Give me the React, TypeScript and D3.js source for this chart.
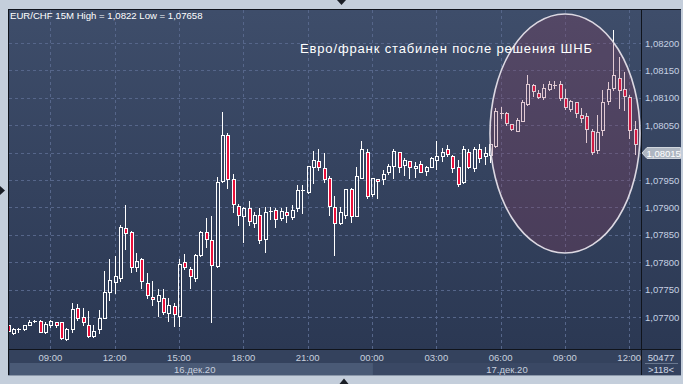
import React from "react";
import * as d3 from "d3";

const opens = [1.07685,1.07671,1.07677,1.07678,1.07686,1.07692,1.07693,1.07672,1.07685,1.07690,1.07690,1.07659,1.07678,1.07716,1.07700,1.07685,1.07665,1.07678,1.07699,1.07746,1.07764,1.07771,1.07862,1.07855,1.07791,1.07806,1.07762,1.07736,1.07730,1.07734,1.07707,1.07720,1.07701,1.07800,1.07788,1.07772,1.07813,1.07855,1.07840,1.07793,1.07948,1.08032,1.07952,1.07903,1.07884,1.07899,1.07872,1.07887,1.07842,1.07893,1.07895,1.07880,1.07892,1.07883,1.07898,1.07931,1.07928,1.07973,1.07985,1.07971,1.07953,1.07900,1.07871,1.07887,1.07934,1.07885,1.07954,1.08002,1.07924,1.07951,1.07951,1.07964,1.07976,1.08001,1.07978,1.07984,1.07971,1.07980,1.07967,1.07974,1.07987,1.07994,1.08006,1.07994,1.07973,1.07946,1.08002,1.07972,1.08007,1.07993,1.07996,1.08012,1.08072,1.08072,1.08052,1.08040,1.08058,1.08088,1.08123,1.08109,1.08102,1.08116,1.08123,1.08126,1.08100,1.08080,1.08092,1.08069,1.08066,1.08040,1.08005,1.08041,1.08095,1.08117,1.08137,1.08116,1.08102,1.08043];
const highs = [1.07687,1.07680,1.07680,1.07686,1.07695,1.07695,1.07695,1.07691,1.07695,1.07691,1.07691,1.07680,1.07726,1.07724,1.07716,1.07711,1.07686,1.07713,1.07784,1.07806,1.07812,1.07867,1.07904,1.07857,1.07817,1.07808,1.07780,1.07766,1.07751,1.07751,1.07734,1.07726,1.07805,1.07815,1.07792,1.07815,1.07857,1.07881,1.07884,1.07955,1.08074,1.08036,1.07961,1.07906,1.07900,1.07912,1.07891,1.07898,1.07900,1.07900,1.07899,1.07898,1.07900,1.07904,1.07941,1.07941,1.07976,1.08003,1.08007,1.07999,1.07957,1.07921,1.07900,1.07934,1.07935,1.07974,1.08021,1.08006,1.07954,1.07952,1.07968,1.07979,1.08007,1.08002,1.07991,1.07985,1.07982,1.07985,1.07976,1.07992,1.08022,1.08008,1.08014,1.07995,1.07987,1.08012,1.08006,1.08010,1.08016,1.08010,1.08016,1.08082,1.08083,1.08074,1.08052,1.08063,1.08096,1.08142,1.08126,1.08114,1.08125,1.08131,1.08131,1.08131,1.08116,1.08096,1.08093,1.08081,1.08072,1.08043,1.08068,1.08114,1.08129,1.08224,1.08175,1.08147,1.08106,1.08058];
const lows = [1.07672,1.07669,1.07672,1.07677,1.07685,1.07690,1.07672,1.07671,1.07682,1.07681,1.07660,1.07658,1.07673,1.07694,1.07685,1.07664,1.07664,1.07670,1.07698,1.07731,1.07743,1.07766,1.07825,1.07783,1.07784,1.07753,1.07734,1.07721,1.07701,1.07705,1.07693,1.07684,1.07684,1.07787,1.07753,1.07766,1.07811,1.07827,1.07691,1.07792,1.07947,1.07935,1.07892,1.07867,1.07836,1.07867,1.07865,1.07835,1.07819,1.07879,1.07865,1.07877,1.07874,1.07879,1.07893,1.07890,1.07927,1.07944,1.07968,1.07947,1.07886,1.07814,1.07870,1.07880,1.07874,1.07884,1.07953,1.07917,1.07920,1.07917,1.07943,1.07961,1.07954,1.07965,1.07959,1.07954,1.07956,1.07964,1.07959,1.07973,1.07970,1.07985,1.07994,1.07965,1.07939,1.07945,1.07972,1.07967,1.07983,1.07979,1.07983,1.08011,1.08064,1.08050,1.08041,1.08039,1.08057,1.08087,1.08103,1.08100,1.08098,1.08114,1.08118,1.08096,1.08080,1.08076,1.08065,1.08056,1.08019,1.07997,1.07999,1.08032,1.08089,1.08114,1.08081,1.08078,1.08027,1.07997];
const closes = [1.07674,1.07679,1.07679,1.07685,1.07690,1.07692,1.07673,1.07687,1.07692,1.07686,1.07661,1.07679,1.07714,1.07698,1.07690,1.07665,1.07674,1.07698,1.07745,1.07768,1.07775,1.07865,1.07853,1.07792,1.07802,1.07766,1.07740,1.07732,1.07740,1.07710,1.07722,1.07705,1.07797,1.07791,1.07774,1.07814,1.07856,1.07842,1.07794,1.07946,1.08033,1.07951,1.07906,1.07886,1.07898,1.07875,1.07886,1.07841,1.07891,1.07894,1.07879,1.07893,1.07886,1.07895,1.07932,1.07932,1.07975,1.07986,1.07973,1.07951,1.07903,1.07872,1.07891,1.07933,1.07884,1.07957,1.08006,1.07920,1.07953,1.07948,1.07961,1.07976,1.08003,1.07974,1.07987,1.07973,1.07975,1.07965,1.07973,1.07991,1.07993,1.08002,1.07998,1.07971,1.07943,1.08006,1.07974,1.08007,1.07991,1.07999,1.08015,1.08076,1.08073,1.08054,1.08043,1.08060,1.08093,1.08126,1.08112,1.08101,1.08117,1.08126,1.08124,1.08099,1.08083,1.08094,1.08072,1.08063,1.08043,1.08002,1.08038,1.08093,1.08116,1.08142,1.08114,1.08103,1.08041,1.08015];

const priceTicks = [1.077, 1.0775, 1.078, 1.0785, 1.079, 1.0795, 1.08, 1.0805, 1.081, 1.0815, 1.082];
const timeTickIdx = [8, 20, 32, 44, 56, 68, 80, 92, 104, 116];
const timeTickLabels = ["09:00", "12:00", "15:00", "18:00", "21:00", "00:00", "03:00", "06:00", "09:00", "12:00"];
const dayLabels = ["16.дек.20", "17.дек.20"];
const dayStartIdx = [0, 68];
const lastPrice = 1.08015;
const headerText = "EUR/CHF 15M High = 1,0822 Low = 1,07658";
const annotation = "Евро/франк стабилен после решения ШНБ";
const volumeText = "50477";
const countText = ">118<";

const W = 683, H = 384;
const PL = 9, PT = 10, PR = 641, PB = 349;
const FONT = "'Liberation Sans', Arial, sans-serif";

export default function App() {
  const n = opens.length;
  const x = d3.scaleLinear().domain([0, n - 1]).range([8.5, 635.6]);
  const y = d3.scaleLinear().domain([1.077, 1.082]).range([317, 43]);
  const fmt = (v: number) => v.toFixed(5).replace(".", ",");
  const col = (i: number) => Math.floor(x(i) - 0.5);

  return (
    <div style={{ position: "absolute", left: 0, top: 0, width: W, height: H }}>
      <svg width={W} height={H} style={{ display: "block" }}>
        <defs>
          <linearGradient id="bg" x1="0" y1="0" x2="0" y2="1">
            <stop offset="0" stopColor="#3e4d6a" />
            <stop offset="1" stopColor="#2b3853" />
          </linearGradient>
          <clipPath id="plotClip">
            <rect x={PL} y={PT} width={PR - PL} height={PB - PT} />
          </clipPath>
          <clipPath id="axisClip">
            <rect x={PL} y={PB} width={PR - PL} height={30} />
          </clipPath>
          <clipPath id="hiddenLabel">
            <rect x={642} y={159} width={40} height={10} />
          </clipPath>
        </defs>
        <rect x={0} y={0} width={W} height={H} fill="#c4cedb" />
        {/* main frame */}
        <rect x={8} y={9} width={673} height={367} fill="#34425e" />
        <rect x={PL} y={PT} width={PR - PL} height={PB - PT} fill="url(#bg)" />
        <rect x={PR + 1} y={PT} width={681 - PR - 1} height={PB - PT} fill="url(#bg)" />
        {/* time axis band */}
        <rect x={PL} y={PB + 1} width={PR - PL} height={14} fill="#34425d" />
        <rect x={PL + 1} y={363} width={x(dayStartIdx[1]) - PL - 1} height={12} fill="#4a5a76" />
        <rect x={x(dayStartIdx[1])} y={363} width={PR - x(dayStartIdx[1])} height={12} fill="#3a4864" />
        {/* frame lines */}
        <line x1={8.5} y1={9} x2={8.5} y2={376} stroke="#10141c" />
        <line x1={8} y1={9.5} x2={681} y2={9.5} stroke="#10141c" />
        <line x1={8} y1={PB + 0.5} x2={681} y2={PB + 0.5} stroke="#10141c" />
        <line x1={PR + 0.5} y1={9} x2={PR + 0.5} y2={376} stroke="#10141c" />
        <line x1={8} y1={375.5} x2={681} y2={375.5} stroke="#8c98aa" />
        {/* grid */}
        <g stroke="#56668a" strokeDasharray="3,3" strokeWidth={1} clipPath="url(#plotClip)">
          {priceTicks.map((p, i) => (
            <line key={"h" + i} x1={PL} x2={PR} y1={Math.round(y(p)) + 0.5} y2={Math.round(y(p)) + 0.5} />
          ))}
          {timeTickIdx.map((t, i) => (
            <line key={"v" + i} x1={col(t) + 0.5} x2={col(t) + 0.5} y1={PT} y2={PB} />
          ))}
        </g>
        {/* candles */}
        <g clipPath="url(#plotClip)">
          {opens.map((o, i) => {
            const c = closes[i];
            const up = c >= o;
            const k = col(i);
            const wx = k + 0.5;
            const top = Math.round(y(Math.max(o, c)));
            const bot = Math.round(y(Math.min(o, c)));
            const hi = Math.round(y(highs[i]));
            const lo = Math.round(y(lows[i]));
            const hgt = bot - top;
            if (hgt <= 1) {
              return (
                <g key={i}>
                  <line x1={wx} x2={wx} y1={hi} y2={lo + 1} stroke="#ffffff" strokeWidth={1} />
                  <line x1={k - 1} x2={k + 3} y1={top + 0.5} y2={top + 0.5} stroke="#ffffff" strokeWidth={1} />
                </g>
              );
            }
            return (
              <g key={i}>
                <line x1={wx} x2={wx} y1={hi} y2={top} stroke="#ffffff" strokeWidth={1} />
                <line x1={wx} x2={wx} y1={bot + 1} y2={lo + 1} stroke="#ffffff" strokeWidth={1} />
                <rect x={k - 0.5} y={top + 0.5} width={3} height={hgt} fill={up ? "none" : "#ea0f3a"} stroke="#ffffff" strokeWidth={1} />
              </g>
            );
          })}
        </g>
        {/* ellipse highlight */}
        <ellipse cx={565} cy={133.5} rx={75} ry={119.5} fill="rgba(145,60,92,0.27)" stroke="#dcd8e2" strokeWidth={1.6} />
        <text x={300} y={53} fill="#ffffff" fontFamily={FONT} fontSize={13} letterSpacing={0.85}>{annotation}</text>
        {/* header */}
        <text x={10} y={19} fill="#ffffff" fontFamily={FONT} fontSize={9.6}>{headerText}</text>
        {/* y axis labels */}
        {priceTicks.map((p, i) => (
          p === 1.08 ? (
            <text key={"yl" + i} x={645} y={y(p) + 3.5} fill="#c6d0e2" fontFamily={FONT} fontSize={9.5} clipPath="url(#hiddenLabel)">{fmt(p)}</text>
          ) : (
            <text key={"yl" + i} x={645} y={y(p) + 3.5} fill="#c6d0e2" fontFamily={FONT} fontSize={9.5}>{fmt(p)}</text>
          )
        ))}
        {/* last price tag */}
        <path d={`M642,153 L647,147.5 L680.5,147.5 L680.5,158.5 L647,158.5 Z`} fill="#aeb6c2" stroke="#d0d6de" strokeWidth={1} />
        <text x={646.5} y={156.5} fill="#ffffff" fontFamily={FONT} fontSize={9.5}>{fmt(lastPrice)}</text>
        {/* time labels */}
        <g clipPath="url(#axisClip)">
          {timeTickIdx.map((t, i) => (
            <text key={"tl" + i} x={x(t) - 1} y={361} textAnchor="middle" fill="#c8d0de" fontFamily={FONT} fontSize={9.5}>{timeTickLabels[i]}</text>
          ))}
        </g>
        <text x={(x(dayStartIdx[0]) + x(dayStartIdx[1])) / 2 + 4} y={372.5} textAnchor="middle" fill="#c8d0de" fontFamily={FONT} fontSize={9.5}>{dayLabels[0]}</text>
        <text x={(x(dayStartIdx[1]) + PR) / 2} y={372.5} textAnchor="middle" fill="#c8d0de" fontFamily={FONT} fontSize={9.5}>{dayLabels[1]}</text>
        {/* right bottom cell */}
        <text x={661} y={360.5} textAnchor="middle" fill="#d0d8e6" fontFamily={FONT} fontSize={9.5}>{volumeText}</text>
        <line x1={645} x2={678} y1={363.5} y2={363.5} stroke="#6a7890" />
        <text x={661} y={373} textAnchor="middle" fill="#d0d8e6" fontFamily={FONT} fontSize={9.5}>{countText}</text>
        {/* scroll triangles */}
        <path d="M0,186 L5,190.5 L0,195 Z" fill="#1a1e26" />
        <path d="M337,0 L346,0 L341.5,5 Z" fill="#1a1e26" />
        <path d="M339.5,384 L348.5,384 L344,378.5 Z" fill="#1a1e26" />
      </svg>
    </div>
  );
}
